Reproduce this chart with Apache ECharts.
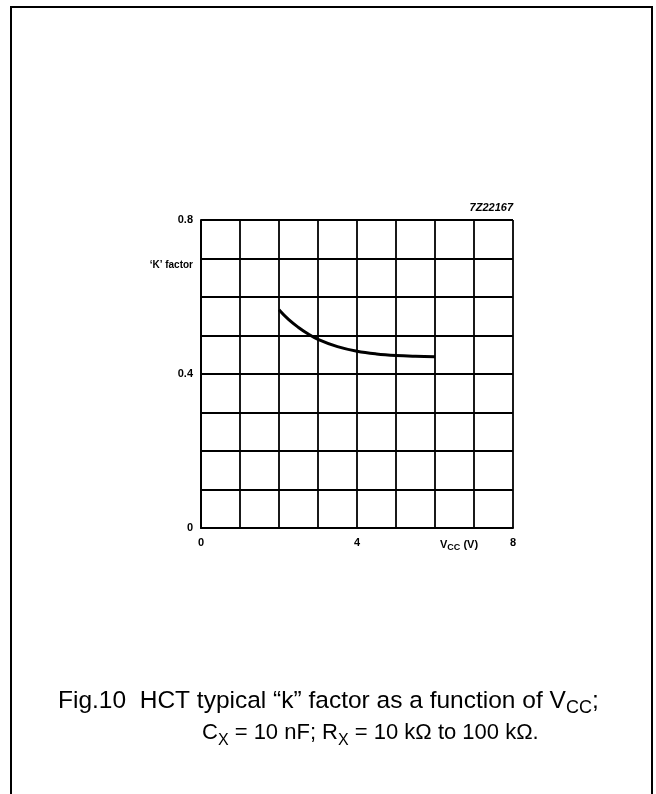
<!DOCTYPE html>
<html>
<head>
<meta charset="utf-8">
<script src="https://cdn.jsdelivr.net/npm/echarts@6/dist/echarts.min.js"></script>
<style>
html,body{margin:0;padding:0;background:#fff;}
#c{width:656px;height:794px;}
</style>
</head>
<body>
<div id="c"></div>
<script>
// Data
const vcc = [2, 2.25, 2.5, 2.75, 3, 3.5, 4, 4.5, 5, 5.5, 6];
const kFactor = [0.567, 0.541, 0.521, 0.504, 0.490, 0.471, 0.459, 0.452, 0.448, 0.446, 0.445];
const xTickLabels = [0, 4, 8];
const yTickLabels = [0, 0.4, 0.8];

const chart = echarts.init(document.getElementById('c'), null, {renderer: 'canvas'});
const fontFam = 'Liberation Sans, Arial, sans-serif';

function capRich(size) {
  return {
    a: {fontFamily: fontFam, fontSize: size, fontWeight: 'normal', color: '#000', lineHeight: 32},
    s: {fontFamily: fontFam, fontSize: Math.round(size * 0.72), fontWeight: 'normal', color: '#000', lineHeight: 22, verticalAlign: 'bottom'}
  };
}

const option = {
  backgroundColor: '#fff',
  animation: false,
  title: [
    {
      text: '{a|Fig.10  HCT typical \u201ck\u201d factor as a function of V}{s|CC}{a|;}',
      left: 53, top: 680,
      textStyle: {fontWeight: 'normal', rich: capRich(24.5)}
    },
    {
      text: '{a|C}{s|X}{a| = 10 nF; R}{s|X}{a| = 10 k\u03a9 to 100 k\u03a9.}',
      left: 197, top: 712,
      textStyle: {fontWeight: 'normal', rich: capRich(22)}
    }
  ],
  graphic: [
    {type: 'rect', shape: {x: 11, y: 7, width: 641, height: 800}, style: {fill: 'none', stroke: '#000', lineWidth: 2}, silent: true},
    {type: 'text', x: 513, y: 208, style: {text: '7Z22167', font: 'italic bold 11px ' + fontFam, fill: '#000', textAlign: 'right', textVerticalAlign: 'middle'}},
    {type: 'text', x: 193, y: 265, style: {text: '\u2018K\u2019 factor', font: 'bold 10px ' + fontFam, fill: '#000', textAlign: 'right', textVerticalAlign: 'middle'}},
    {type: 'text', x: 440, y: 545, style: {
      text: '{a|V}{s|CC}{a| (V)}',
      rich: {
        a: {font: 'bold 11px ' + fontFam, fill: '#000', lineHeight: 14},
        s: {font: 'bold 9px ' + fontFam, fill: '#000', lineHeight: 10, verticalAlign: 'bottom'}
      },
      textVerticalAlign: 'middle'
    }}
  ],
  grid: {left: 201, top: 220, width: 312, height: 308, containLabel: false},
  xAxis: {
    type: 'value', min: 0, max: 8, interval: 1,
    axisLine: {show: true, lineStyle: {color: '#000', width: 2}},
    axisTick: {show: false},
    splitLine: {show: true, lineStyle: {color: '#000', width: 1.8}},
    axisLabel: {
      margin: 9, color: '#000', fontFamily: fontFam, fontWeight: 'bold', fontSize: 11,
      formatter: v => xTickLabels.includes(v) ? String(v) : ''
    }
  },
  yAxis: {
    type: 'value', min: 0, max: 0.8, interval: 0.1,
    axisLine: {show: true, lineStyle: {color: '#000', width: 2}},
    axisTick: {show: false},
    splitLine: {show: true, lineStyle: {color: '#000', width: 1.8}},
    axisLabel: {
      margin: 8, color: '#000', fontFamily: fontFam, fontWeight: 'bold', fontSize: 11,
      formatter: v => {
        const r = Math.round(v * 10) / 10;
        return yTickLabels.includes(r) ? String(r) : '';
      }
    }
  },
  series: [{
    type: 'line',
    data: vcc.map((x, i) => [x, kFactor[i]]),
    smooth: 0.4,
    showSymbol: false,
    lineStyle: {color: '#000', width: 3}
  }]
};
chart.setOption(option);
</script>
</body>
</html>
